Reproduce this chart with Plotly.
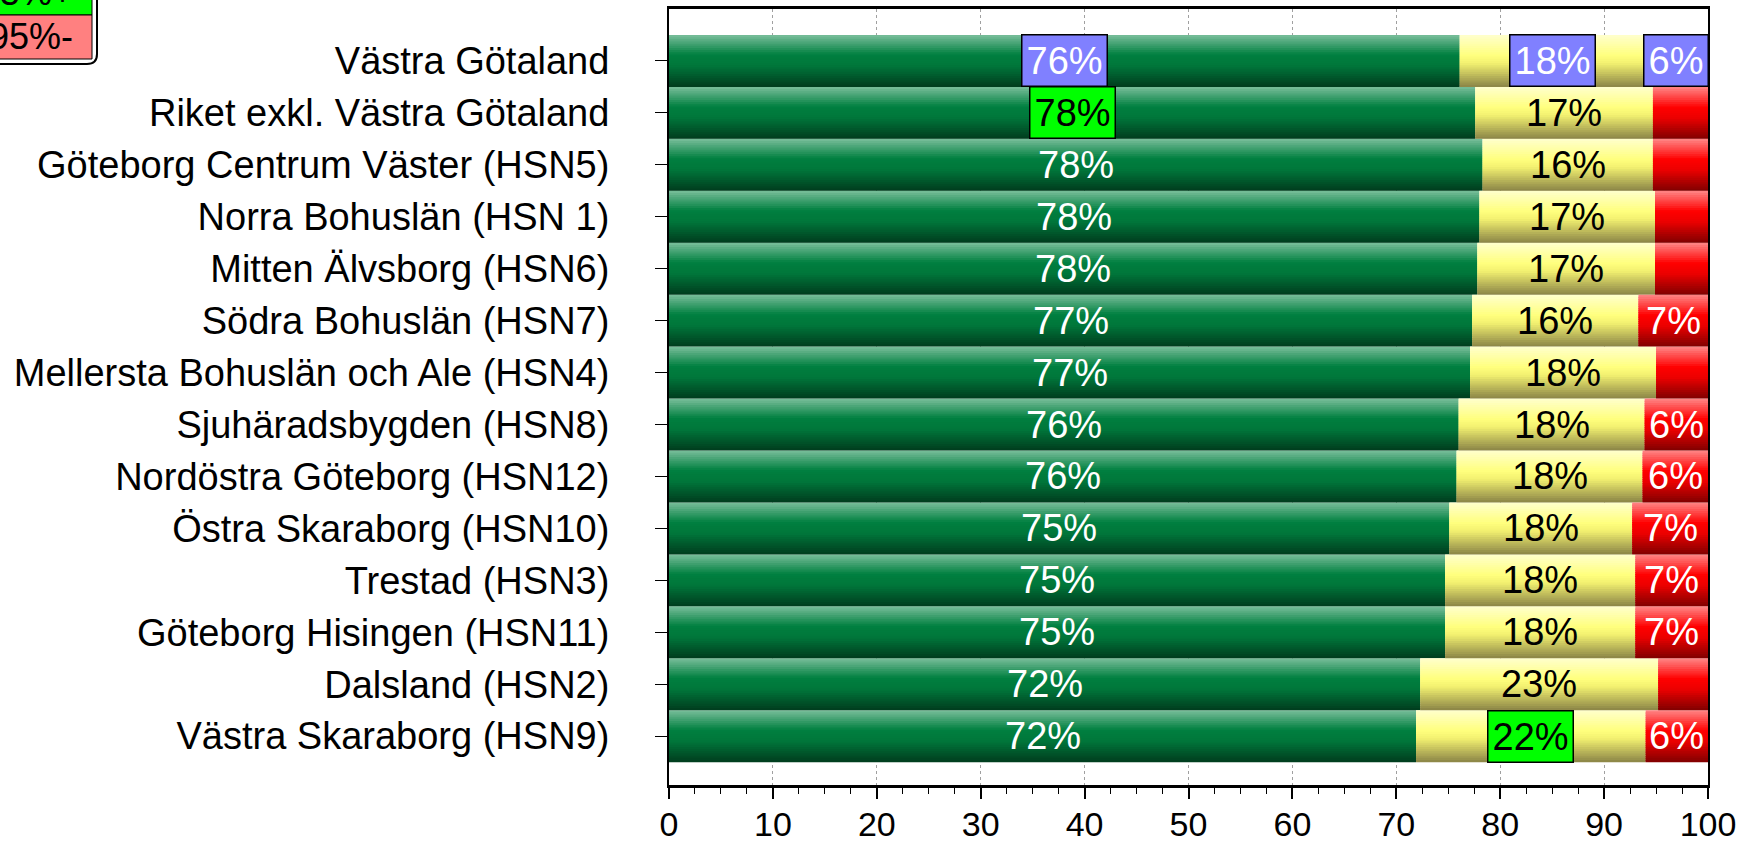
import plotly.graph_objects as go

categories = [
    "Västra Götaland",
    "Riket exkl. Västra Götaland",
    "Göteborg Centrum Väster (HSN5)",
    "Norra Bohuslän (HSN 1)",
    "Mitten Älvsborg (HSN6)",
    "Södra Bohuslän (HSN7)",
    "Mellersta Bohuslän och Ale (HSN4)",
    "Sjuhäradsbygden (HSN8)",
    "Nordöstra Göteborg (HSN12)",
    "Östra Skaraborg (HSN10)",
    "Trestad (HSN3)",
    "Göteborg Hisingen (HSN11)",
    "Dalsland (HSN2)",
    "Västra Skaraborg (HSN9)",
]
green = [76.1, 77.6, 78.3, 78.0, 77.8, 77.3, 77.1, 76.0, 75.8, 75.1, 74.7, 74.7, 72.3, 71.9]
yellow = [17.8, 17.1, 16.4, 16.9, 17.1, 16.0, 17.9, 17.9, 17.9, 17.6, 18.3, 18.3, 22.9, 22.1]
red = [6.1, 5.3, 5.3, 5.1, 5.1, 6.7, 5.0, 6.1, 6.3, 7.3, 7.0, 7.0, 4.8, 6.0]
legend_labels = ["95%+", "95%-"]

# labels drawn in a box: (category, segment index) -> box colour
highlights = {
    ("Västra Götaland", 0): "#8080ff",
    ("Västra Götaland", 1): "#8080ff",
    ("Västra Götaland", 2): "#8080ff",
    ("Riket exkl. Västra Götaland", 0): "#00ff00",
    ("Västra Skaraborg (HSN9)", 1): "#00ff00",
}

FONT = "Liberation Sans, Arial, sans-serif"
BAR_W = 1.0
N_STRIPES = 24

# vertical gradient stops, top -> bottom
stops = [
    [(0.0, (122, 190, 155)), (0.38, (0, 128, 64)), (0.6, (0, 118, 58)), (1.0, (0, 60, 29))],
    [(0.0, (255, 255, 205)), (0.4, (255, 255, 125)), (0.55, (242, 240, 112)), (1.0, (138, 132, 70))],
    [(0.0, (255, 135, 135)), (0.4, (255, 0, 0)), (0.6, (235, 0, 0)), (1.0, (128, 0, 0))],
]
text_colors = ["white", "black", "white"]


def grad(st, t):
    for (t0, c0), (t1, c1) in zip(st[:-1], st[1:]):
        if t <= t1:
            f = (t - t0) / (t1 - t0) if t1 > t0 else 0
            c = [round(a + (b - a) * f) for a, b in zip(c0, c1)]
            return f"rgb({c[0]},{c[1]},{c[2]})"
    c = st[-1][1]
    return f"rgb({c[0]},{c[1]},{c[2]})"


series = [green, yellow, red]
bases = [
    [0] * len(green),
    green,
    [g + y for g, y in zip(green, yellow)],
]

fig = go.Figure()
step = BAR_W / N_STRIPES
for s, vals in enumerate(series):
    for k in range(N_STRIPES):
        t = (k + 0.5) / N_STRIPES
        off = -BAR_W / 2 + k * step
        fig.add_trace(go.Bar(
            y=categories, x=vals, base=bases[s], orientation="h",
            width=min(step + 0.03, BAR_W / 2 - off),
            offset=off,
            marker=dict(color=grad(stops[s], t), line=dict(width=0)),
            hoverinfo="skip", showlegend=False,
        ))

# value labels
for s, vals in enumerate(series):
    for i, cat in enumerate(categories):
        v = round(vals[i])
        if s == 2 and v < 6:
            continue
        box = highlights.get((cat, s))
        color = text_colors[s]
        if box == "#00ff00":
            color = "black"
        elif box == "#8080ff":
            color = "white"
        ann = dict(
            x=bases[s][i] + vals[i] / 2, y=cat, xref="x", yref="y",
            text=f"{v}%", showarrow=False,
            font=dict(family=FONT, size=38, color=color),
        )
        if box:
            ann.update(bgcolor=box, bordercolor="black", borderwidth=1.5, borderpad=4)
        fig.add_annotation(**ann)


# legend box at top-left (partly outside the page)
def px_x(p):
    return (p - 669) / 1039


def px_y(p):
    return (785 - p) / 776


r = 10
path = (f"M {px_x(-30)},{px_y(-30)} L {px_x(97)},{px_y(-30)} L {px_x(97)},{px_y(64 - r)} "
        f"Q {px_x(97)},{px_y(64)} {px_x(97 - r)},{px_y(64)} L {px_x(-30)},{px_y(64)} Z")
fig.add_shape(type="path", path=path, xref="paper", yref="paper",
              fillcolor="white", line=dict(color="black", width=2), layer="above")
fig.add_shape(type="rect", xref="paper", yref="paper",
              x0=px_x(-30), x1=px_x(92), y0=px_y(-30), y1=px_y(15),
              fillcolor="#00ff00", line=dict(color="black", width=1), layer="above")
fig.add_shape(type="rect", xref="paper", yref="paper",
              x0=px_x(-30), x1=px_x(92), y0=px_y(15), y1=px_y(59),
              fillcolor="#ff8080", line=dict(color="black", width=1), layer="above")
for lab, yc in zip(legend_labels, [-8, 37]):
    fig.add_annotation(x=px_x(75), y=px_y(yc), xref="paper", yref="paper",
                       xanchor="right", yanchor="middle", text=lab, showarrow=False,
                       font=dict(family=FONT, size=36, color="black"))

fig.update_layout(
    width=1739, height=843,
    margin=dict(l=669, r=31, t=9, b=58, autoexpand=False),
    barmode="overlay",
    plot_bgcolor="white", paper_bgcolor="white",
    font=dict(family=FONT, color="black"),
)
fig.update_xaxes(
    range=[0, 100], dtick=10, tick0=0,
    showgrid=True, gridcolor="#a0a0a0", griddash="dot", gridwidth=1,
    showline=True, linecolor="black", linewidth=2.5, mirror=True,
    ticks="outside", ticklen=11, tickwidth=1.5, tickcolor="black",
    minor=dict(ticks="outside", dtick=2.5, ticklen=6, tickwidth=1.2, tickcolor="black", showgrid=False),
    tickfont=dict(family=FONT, size=34, color="black"),
    ticklabelstandoff=-4,
    zeroline=False, fixedrange=True,
)
fig.update_yaxes(
    type="category", categoryorder="array", categoryarray=categories,
    range=[13.94, -1.0],
    showgrid=False, zeroline=False,
    showline=True, linecolor="black", linewidth=2, mirror=True,
    ticks="outside", ticklen=12, tickwidth=1.2, tickcolor="black",
    ticklabelstandoff=38,
    tickfont=dict(family=FONT, size=38, color="black"),
)

# page body has a default 8px margin; drop it so the figure fills the window
fig.write_html("out.html", config={"displayModeBar": False},
               post_script="document.body.style.margin='0';")
